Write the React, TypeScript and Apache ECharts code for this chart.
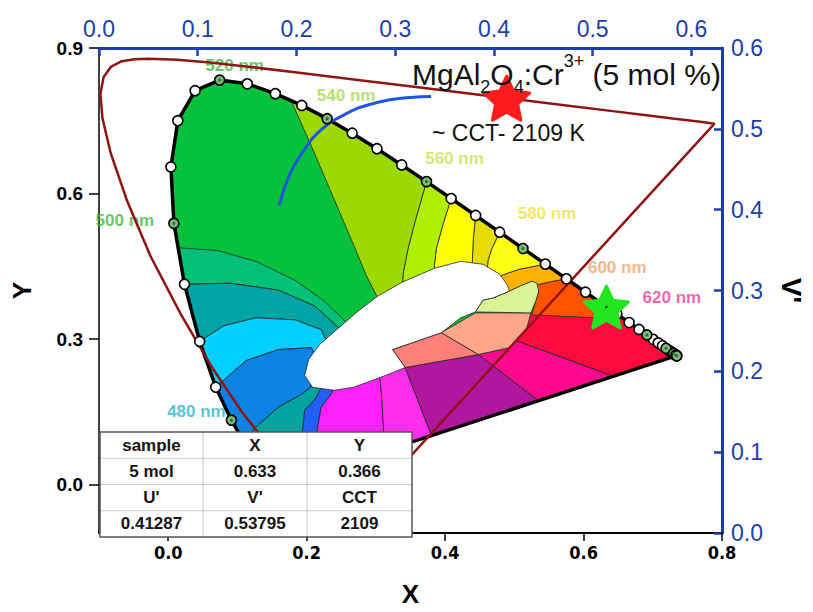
import { useEffect, useRef } from 'react';
import * as echarts from 'echarts';

const FONT = '"Liberation Sans", Arial, Helvetica, sans-serif';
const NARROW = '"Liberation Sans Narrow", "DejaVu Sans Condensed", "Liberation Sans", Arial, sans-serif';
const AXIS_BLUE = '#1d3eaa';

// CIE 1931 spectral locus (x, y), 5 nm steps
const wavelengths = [380,385,390,395,400,405,410,415,420,425,430,435,440,445,450,455,460,465,470,475,480,485,490,495,500,505,510,515,520,525,530,535,540,545,550,555,560,565,570,575,580,585,590,595,600,605,610,615,620,625,630,635,640,645,650,655,660,665,670,675,680,685,690,695,700];
const cieX = [0.1741,0.1740,0.1738,0.1736,0.1733,0.1730,0.1726,0.1721,0.1714,0.1703,0.1689,0.1669,0.1644,0.1611,0.1566,0.1510,0.1440,0.1355,0.1241,0.1096,0.0913,0.0687,0.0454,0.0235,0.0082,0.0039,0.0139,0.0389,0.0743,0.1142,0.1547,0.1929,0.2296,0.2658,0.3016,0.3373,0.3731,0.4087,0.4441,0.4788,0.5125,0.5448,0.5752,0.6029,0.6270,0.6482,0.6658,0.6801,0.6915,0.7006,0.7079,0.7140,0.7190,0.7230,0.7260,0.7283,0.7300,0.7311,0.7320,0.7327,0.7334,0.7340,0.7344,0.7346,0.7347];
const cieY = [0.0050,0.0050,0.0049,0.0049,0.0048,0.0048,0.0048,0.0048,0.0051,0.0058,0.0069,0.0086,0.0109,0.0138,0.0177,0.0227,0.0297,0.0399,0.0578,0.0868,0.1327,0.2007,0.2950,0.4127,0.5384,0.6548,0.7502,0.8120,0.8338,0.8262,0.8059,0.7816,0.7543,0.7243,0.6923,0.6589,0.6245,0.5896,0.5547,0.5202,0.4866,0.4544,0.4242,0.3965,0.3725,0.3514,0.3340,0.3197,0.3083,0.2993,0.2920,0.2859,0.2809,0.2770,0.2740,0.2717,0.2700,0.2689,0.2680,0.2673,0.2666,0.2660,0.2656,0.2654,0.2653];

// CIE 1976 u'v' spectral locus (top / right axes)
const uvWavelengths = [380,400,420,430,440,450,460,465,470,475,480,485,490,495,500,505,510,515,520,525,530,540,550,560,570,580,590,600,610,620,630,640,650,660,680,700];
const uPrime = [0.2568,0.2557,0.2522,0.2461,0.2347,0.2161,0.1877,0.1690,0.1441,0.1147,0.0828,0.0521,0.0282,0.0119,0.0035,0.0014,0.0046,0.0123,0.0231,0.0360,0.0501,0.0792,0.1127,0.1531,0.2026,0.2623,0.3315,0.4035,0.4692,0.5203,0.5565,0.5830,0.6005,0.6109,0.6199,0.6234];
const vPrime = [0.0166,0.0159,0.0169,0.0226,0.0350,0.0549,0.0871,0.1119,0.1510,0.2044,0.2708,0.3427,0.4117,0.4698,0.5131,0.5432,0.5638,0.5770,0.5837,0.5861,0.5868,0.5856,0.5821,0.5766,0.5694,0.5604,0.5501,0.5393,0.5296,0.5219,0.5165,0.5125,0.5099,0.5084,0.5070,0.5065];

// blue curve (u', v')
const blueCurveU = [0.1825,0.1925,0.2063,0.2222,0.2490,0.2817,0.3155,0.3363];
const blueCurveV = [0.4049,0.4417,0.4712,0.4957,0.5178,0.5325,0.5387,0.5399];

// sample point
const sampleXY: [number, number] = [0.633, 0.366];
const sampleUV: [number, number] = [0.41287, 0.53795];

// wavelength labels
const labelWavelengths = [480, 500, 520, 540, 560, 580, 600, 620];
const labelColors = ['#2bb5c6', '#3cb83c', '#3cb83c', '#a3d84b', '#c5e24c', '#f0e23e', '#f5a268', '#e83b9a'];

// table
const tableRows = [
  ['sample', 'X', 'Y'],
  ['5 mol', '0.633', '0.366'],
  ["U'", "V'", 'CCT'],
  ['0.41287', '0.53795', '2109'],
];

const xTicks = [0, 0.2, 0.4, 0.6, 0.8];
const yTicks = [0, 0.3, 0.6, 0.9];
const uTicks = [0, 0.1, 0.2, 0.3, 0.4, 0.5, 0.6];
const vTicks = [0, 0.1, 0.2, 0.3, 0.4, 0.5, 0.6];

type Pt = [number, number];
interface RegionSpec { color: string; head?: Pt[]; from?: number; to?: number; tail?: Pt[] }

const blobPts: Pt[] = [[0.1972,0.2249],[0.2028,0.2577],[0.2183,0.2883],[0.2465,0.3231],[0.2746,0.3579],[0.3028,0.3885],[0.3380,0.4172],[0.3845,0.4458],[0.4225,0.4601],[0.4549,0.4540],[0.4789,0.4335],[0.4901,0.4110],[0.4930,0.3988],[0.4690,0.3845],[0.4549,0.3804],[0.4437,0.3558],[0.4225,0.3436],[0.3944,0.3129],[0.3239,0.2781],[0.3423,0.2413],[0.3141,0.2249],[0.2676,0.2004],[0.2394,0.1943],[0.2085,0.2004]];

const regionSpecs: RegionSpec[] = [
  { color: '#05c13b', from: 380, to: 700 },
  { color: '#00c177', head: [[0.0143,0.4881]], from: 495, to: 495, tail: [[0.0887,0.4151],[0.1592,0.4008],[0.2113,0.3681],[0.2465,0.3231],[0.2563,0.2986],[0.2704,0.3129],[0.2535,0.3395],[0.2254,0.3783],[0.1831,0.4213],[0.1268,0.4601],[0.0704,0.4826]] },
  { color: '#00a4a4', from: 495, to: 490, tail: [[0.0803,0.3272],[0.1268,0.3436],[0.1831,0.3395],[0.2211,0.3190],[0.2324,0.2822],[0.2563,0.2986],[0.2465,0.3231],[0.2113,0.3681],[0.1592,0.4008],[0.0887,0.4151]] },
  { color: '#00cfff', from: 490, to: 485, tail: [[0.1127,0.2556],[0.1592,0.2781],[0.2070,0.2822],[0.2141,0.2577],[0.2324,0.2822],[0.2211,0.3190],[0.1831,0.3395],[0.1268,0.3436],[0.0803,0.3272]] },
  { color: '#0b83e5', from: 485, to: 475, tail: [[0.1268,0.1186],[0.1592,0.1595],[0.1930,0.1861],[0.2056,0.2004],[0.2085,0.2127],[0.2141,0.2577],[0.2070,0.2822],[0.1592,0.2781],[0.1127,0.2556]] },
  { color: '#00a39f', head: [[0.1268,0.1186]], from: 475, to: 380, tail: [[0.1901,0.0124],[0.1944,0.1145],[0.1972,0.1534],[0.2113,0.1738],[0.2254,0.2106],[0.2085,0.2127],[0.2056,0.2004],[0.1930,0.1861],[0.1592,0.1595]] },
  { color: '#1f60ff', tail: [[0.1901,0.0124],[0.1944,0.1145],[0.1972,0.1534],[0.2113,0.1738],[0.2254,0.2106],[0.2423,0.2086],[0.2352,0.1861],[0.2211,0.1595],[0.2155,0.1145],[0.2141,0.0236]] },
  { color: '#ff22ff', tail: [[0.2141,0.0236],[0.2155,0.1145],[0.2211,0.1595],[0.2352,0.1861],[0.2423,0.2086],[0.2676,0.2106],[0.3056,0.2249],[0.3085,0.1800],[0.3127,0.0694]] },
  { color: '#ff2ff0', tail: [[0.3056,0.2249],[0.3423,0.2413],[0.3803,0.1007],[0.3127,0.0694],[0.3085,0.1800]] },
  { color: '#b1169f', tail: [[0.3423,0.2413],[0.4479,0.2679],[0.5352,0.1727],[0.3803,0.1007]] },
  { color: '#ff0a8e', tail: [[0.4479,0.2679],[0.4930,0.2822],[0.5028,0.2965],[0.6437,0.2231],[0.5352,0.1727]] },
  { color: '#ff0a3e', head: [[0.5239,0.3538],[0.6197,0.3436],[0.6552,0.3444]], from: 610, to: 700, tail: [[0.6437,0.2231],[0.5028,0.2965],[0.5169,0.3170]] },
  { color: '#ff5300', from: 590, to: 605, tail: [[0.6552,0.3444],[0.6197,0.3436],[0.5254,0.3497],[0.5310,0.3783],[0.5352,0.3988],[0.5310,0.4110],[0.5493,0.4172]] },
  { color: '#ffb300', from: 585, to: 590, tail: [[0.5493,0.4172],[0.5310,0.4110],[0.5254,0.4192],[0.4930,0.3988],[0.4718,0.4151],[0.4817,0.4315],[0.5070,0.4438]] },
  { color: '#ffff12', from: 575, to: 585, tail: [[0.5070,0.4438],[0.4817,0.4315],[0.4718,0.4151],[0.4606,0.4356],[0.4620,0.4622],[0.4676,0.4867]] },
  { color: '#e7dc00', from: 570, to: 575, tail: [[0.4676,0.4867],[0.4620,0.4622],[0.4606,0.4356],[0.4394,0.4356],[0.4394,0.4663],[0.4408,0.5072]] },
  { color: '#ffff00', from: 565, to: 570, tail: [[0.4408,0.5072],[0.4394,0.4663],[0.4394,0.4356],[0.3845,0.4254],[0.3845,0.4519],[0.3873,0.4867],[0.3972,0.5378]] },
  { color: '#aef000', from: 560, to: 565, tail: [[0.3972,0.5378],[0.3873,0.4867],[0.3845,0.4519],[0.3845,0.4254],[0.3380,0.4008],[0.3394,0.4356],[0.3465,0.4867],[0.3577,0.5481]] },
  { color: '#9cd900', head: [[0.1776,0.7913]], from: 535, to: 560, tail: [[0.3577,0.5481],[0.3465,0.4867],[0.3394,0.4356],[0.3380,0.4008],[0.3127,0.3640],[0.3028,0.3845],[0.2859,0.4315],[0.2718,0.4806],[0.2394,0.5890],[0.2070,0.6973]] },
  { color: '#ffa688', tail: [[0.3944,0.3129],[0.4437,0.3538],[0.5239,0.3538],[0.5169,0.3170],[0.5028,0.2965],[0.4930,0.2822],[0.4479,0.2679]] },
  { color: '#ff8079', tail: [[0.3239,0.2781],[0.3944,0.3129],[0.4479,0.2679],[0.3423,0.2413]] },
  { color: '#dbf498', tail: [[0.4437,0.3558],[0.4549,0.3804],[0.4690,0.3845],[0.4930,0.3988],[0.5113,0.4110],[0.5254,0.4192],[0.5324,0.4151],[0.5352,0.3988],[0.5310,0.3783],[0.5239,0.3538]] },
  { color: '#ffffff', tail: blobPts },
];

const STAR = 'path://M50,2 L64.11,32.58 L97.55,36.55 L72.83,59.42 L79.39,92.45 L50,76 L20.61,92.45 L27.17,59.42 L2.45,36.55 L35.89,32.58 Z';

function locusPt(wl: number): Pt {
  const i = wavelengths.indexOf(wl);
  return [cieX[i], cieY[i]];
}
function locusRange(a: number, b: number): Pt[] {
  const out: Pt[] = [];
  if (a <= b) { for (let w = a; w <= b; w += 5) out.push(locusPt(w)); }
  else { for (let w = a; w >= b; w -= 5) out.push(locusPt(w)); }
  return out;
}
const regionPolys = regionSpecs.map((r) => ({
  color: r.color,
  pts: [
    ...(r.head || []),
    ...(r.from !== undefined && r.to !== undefined ? locusRange(r.from, r.to) : []),
    ...(r.tail || []),
  ] as Pt[],
}));

const labelOffsets: Record<number, [number, number]> = {
  480: [-35, -9], 500: [-49, -3], 520: [15, -15], 540: [19, -23],
  560: [28, -23], 580: [24, -35], 600: [15, -36], 620: [25, -37],
};

function buildOption(): any {
  const locusLine = wavelengths.map((w) => locusPt(w));
  locusLine.push(locusPt(380));
  const uvLine = uPrime.map((u, i) => [u, vPrime[i]]);
  uvLine.push([uPrime[0], vPrime[0]]);
  const blueLine = blueCurveU.map((u, i) => [u, blueCurveV[i]]);
  const plainMarkers = wavelengths.filter((w) => w % 20 !== 0).map((w) => locusPt(w));
  const keyMarkers = wavelengths.filter((w) => w % 20 === 0).map((w) => locusPt(w));
  const labelData = labelWavelengths.map((w, i) => ({
    value: locusPt(w), wl: w,
    label: { offset: labelOffsets[w], color: labelColors[i] },
  }));

  const TZ = 100;
  const colX0 = 100, rowY0 = 432, colW = [103, 104, 105], rowH = 26.25;
  const tableW = colW.reduce((a, b) => a + b, 0);
  const tableH = rowH * tableRows.length;
  const tableChildren: any[] = [
    { type: 'rect', z: TZ, shape: { x: colX0, y: rowY0, width: tableW, height: tableH }, style: { fill: '#fff', stroke: 'none' } },
  ];
  let cx = colX0;
  for (let c = 1; c < colW.length; c++) {
    cx += colW[c - 1];
    tableChildren.push({ type: 'line', z: TZ + 1, shape: { x1: cx, y1: rowY0, x2: cx, y2: rowY0 + tableH }, style: { stroke: '#c9c9c9', lineWidth: 1 } });
  }
  for (let r = 1; r < tableRows.length; r++) {
    tableChildren.push({ type: 'line', z: TZ + 1, shape: { x1: colX0, y1: rowY0 + r * rowH, x2: colX0 + tableW, y2: rowY0 + r * rowH }, style: { stroke: '#c9c9c9', lineWidth: 1 } });
  }
  tableChildren.push({ type: 'rect', z: TZ + 2, shape: { x: colX0, y: rowY0, width: tableW, height: tableH }, style: { fill: 'none', stroke: '#555', lineWidth: 1.5 } });
  tableRows.forEach((row, r) => {
    let x = colX0;
    row.forEach((cell, c) => {
      tableChildren.push({
        type: 'text', z: TZ + 3,
        style: { text: cell, x: x + colW[c] / 2, y: rowY0 + r * rowH + rowH / 2, align: 'center', verticalAlign: 'middle', fontSize: 17, fontWeight: 'bold', fontFamily: FONT, fill: '#151515' },
      });
      x += colW[c];
    });
  });

  const fmt = (v: number) => v.toFixed(1);

  return {
    animation: false,
    backgroundColor: '#fff',
    grid: { left: 99, top: 48, right: 78, bottom: 75 },
    xAxis: [
      {
        type: 'value', position: 'bottom', min: -0.1, max: 0.8,
        axisLine: { onZero: false, lineStyle: { color: '#000', width: 2 } },
        axisTick: { customValues: xTicks, length: 8, lineStyle: { color: '#000', width: 1.5 } },
        axisLabel: { customValues: xTicks, formatter: fmt, fontSize: 18, fontWeight: 'bold', fontFamily: NARROW, color: '#000', margin: 10 },
        splitLine: { show: false },
        name: 'X', nameLocation: 'middle', nameGap: 48,
        nameTextStyle: { fontSize: 26, fontWeight: 'bold', fontFamily: FONT, color: '#000' },
      },
      {
        type: 'value', position: 'top', min: 0, max: 0.631,
        axisLine: { onZero: false, lineStyle: { color: AXIS_BLUE, width: 3 } },
        axisTick: { customValues: uTicks, inside: true, length: 8, lineStyle: { color: AXIS_BLUE, width: 2.5 } },
        axisLabel: { customValues: uTicks, formatter: fmt, fontSize: 23, fontFamily: FONT, color: AXIS_BLUE, margin: 8 },
        splitLine: { show: false },
      },
    ],
    yAxis: [
      {
        type: 'value', position: 'left', min: -0.1, max: 0.9,
        axisLine: { onZero: false, lineStyle: { color: '#000', width: 1.5 } },
        axisTick: { customValues: yTicks, length: 10, lineStyle: { color: '#000', width: 1.5 } },
        axisLabel: { customValues: yTicks, formatter: fmt, fontSize: 19, fontWeight: 'bold', fontFamily: FONT, color: '#000', margin: 16 },
        splitLine: { show: false },
        name: 'Y', nameLocation: 'middle', nameGap: 64, nameRotate: 90,
        nameTextStyle: { fontSize: 26, fontWeight: 'bold', fontFamily: FONT, color: '#000' },
      },
      {
        type: 'value', position: 'right', min: 0, max: 0.6,
        axisLine: { onZero: false, lineStyle: { color: AXIS_BLUE, width: 3 } },
        axisTick: { customValues: vTicks, inside: true, length: 8, lineStyle: { color: AXIS_BLUE, width: 2.5 } },
        axisLabel: { customValues: vTicks, formatter: fmt, fontSize: 23, fontFamily: FONT, color: AXIS_BLUE, margin: 9 },
        splitLine: { show: false },
        name: "V'", nameLocation: 'middle', nameGap: 55, nameRotate: -90,
        nameTextStyle: { fontSize: 28, fontWeight: 'bold', fontFamily: FONT, color: '#000' },
      },
    ],
    series: [
      {
        type: 'custom', xAxisIndex: 0, yAxisIndex: 0, z: 1, silent: true,
        data: regionPolys.map((r) => r.pts[0]),
        renderItem: (params: any, api: any) => {
          const r = regionPolys[params.dataIndex];
          const pts = r.pts.map((p) => api.coord(p));
          return { type: 'polygon', shape: { points: pts }, style: { fill: r.color, stroke: '#262626', lineWidth: 0.8 } };
        },
      },
      {
        type: 'line', xAxisIndex: 0, yAxisIndex: 0, z: 2, data: locusLine, showSymbol: false, symbol: 'none',
        lineStyle: { color: '#000', width: 3.5, join: 'round' }, silent: true,
      },
      {
        type: 'scatter', xAxisIndex: 0, yAxisIndex: 0, z: 2, data: labelData, symbolSize: 1,
        itemStyle: { color: 'rgba(0,0,0,0)' }, silent: true,
        label: { show: true, position: 'inside', formatter: (p: any) => p.data.wl + ' nm', fontSize: 17, fontWeight: 'bold', fontFamily: FONT },
      },
      {
        type: 'line', xAxisIndex: 1, yAxisIndex: 1, z: 3, data: uvLine, symbol: 'none',
        lineStyle: { color: '#8f1414', width: 2.5 }, silent: true,
      },
      {
        type: 'line', xAxisIndex: 1, yAxisIndex: 1, z: 3, data: blueLine, symbol: 'none', smooth: true,
        lineStyle: { color: '#1f55e0', width: 3 }, silent: true,
      },
      {
        type: 'scatter', xAxisIndex: 0, yAxisIndex: 0, z: 4, data: plainMarkers, symbol: 'circle', symbolSize: 10,
        itemStyle: { color: '#fff', borderColor: '#000', borderWidth: 1.6, opacity: 1 }, silent: true,
      },
      {
        type: 'scatter', xAxisIndex: 0, yAxisIndex: 0, z: 4, data: keyMarkers, symbol: 'circle', symbolSize: 10,
        itemStyle: { color: '#7db87d', borderColor: '#000', borderWidth: 1.6, opacity: 1 }, silent: true,
      },
      {
        type: 'scatter', xAxisIndex: 0, yAxisIndex: 0, z: 4, data: keyMarkers, symbol: 'circle', symbolSize: 3,
        itemStyle: { color: '#2d6e2d', opacity: 1 }, silent: true,
      },
      {
        type: 'scatter', xAxisIndex: 1, yAxisIndex: 1, z: 5, data: [sampleUV], symbol: STAR, symbolSize: [46, 44],
        itemStyle: { color: '#ff1c1c', borderColor: '#ff1c1c', borderWidth: 3, borderJoin: 'round', opacity: 1 }, silent: true,
      },
      {
        type: 'scatter', xAxisIndex: 0, yAxisIndex: 0, z: 5, data: [sampleXY], symbol: STAR, symbolSize: [44, 42],
        itemStyle: { color: '#22e622', borderColor: '#22e622', borderWidth: 3, borderJoin: 'round', opacity: 1 }, silent: true,
      },
      {
        type: 'scatter', xAxisIndex: 0, yAxisIndex: 0, z: 6, data: [sampleXY], symbol: 'circle', symbolSize: 3,
        itemStyle: { color: '#1b5e20', opacity: 1 }, silent: true,
      },
    ],
    graphic: [
      {
        type: 'text', z: 50, x: 412, y: 52,
        style: {
          text: '{m|MgAl}{s|2}{m|O}{s|4}{m|:Cr}{p|3+}{m| (5 mol %)}',
          fill: '#111', fontFamily: FONT, verticalAlign: 'top',
          rich: {
            m: { fontSize: 30, lineHeight: 44, fontFamily: FONT },
            s: { fontSize: 18, lineHeight: 18, verticalAlign: 'bottom', fontFamily: FONT },
            p: { fontSize: 18, lineHeight: 18, verticalAlign: 'top', fontFamily: FONT },
          },
        },
      },
      {
        type: 'text', z: 50, x: 432, y: 133,
        style: { text: '~ CCT- 2109 K', fill: '#111', fontSize: 23, fontFamily: FONT, verticalAlign: 'middle' },
      },
      { type: 'group', z: TZ, children: tableChildren },
    ],
  };
}

export default function App() {
  const ref = useRef<HTMLDivElement>(null);
  useEffect(() => {
    if (!ref.current) return;
    const chart = echarts.init(ref.current, null, { renderer: 'svg' });
    chart.setOption(buildOption());
    return () => chart.dispose();
  }, []);
  return <div ref={ref} style={{ position: 'fixed', left: 0, top: 0, width: 813, height: 612, background: '#fff' }} />;
}
